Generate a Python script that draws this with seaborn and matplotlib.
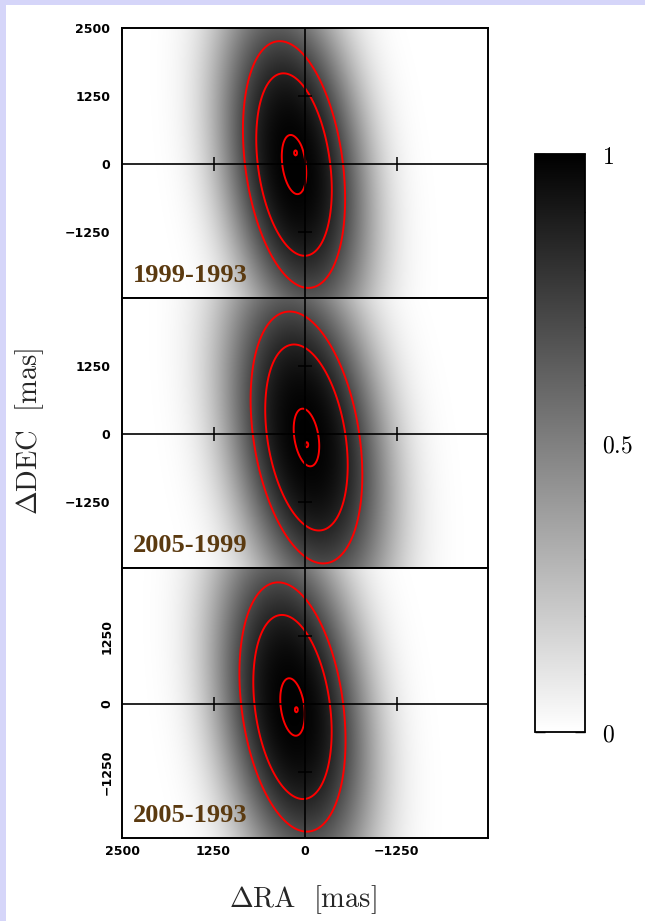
import numpy as np
import matplotlib
matplotlib.use("Agg")
import matplotlib.pyplot as plt
from matplotlib.patches import Rectangle
from matplotlib.ticker import FixedLocator
import seaborn as sns

sns.set_style("white")
plt.rcParams["mathtext.fontset"] = "cm"
plt.rcParams["font.family"] = ["DejaVu Sans"]

# epoch pairs, one panel each
epochs = ["1999-1993", "2005-1999", "2005-1993"]

# offset distribution of each epoch pair [mas]
centre_ra = [150, -20, 171]
centre_dec = [-10, -64, -55]
sigma_ra = [509, 557, 529]
sigma_dec = [1654, 1690, 1672]
corr = [0.28, 0.30, 0.27]
# radial profile exp(-(m / profile_scale) ** profile_power)
profile_scale = 2.05
profile_power = 2.7

# small secondary peak that carries the maximum
peak_ra = [123, -23, 114]
peak_dec = [220, -202, -105]
peak_amp = [0.006, 0.006, 0.006]
peak_sig_ra = [40, 40, 40]
peak_sig_dec = [90, 90, 90]

contour_levels = [0.71, 0.857, 0.988, 0.9992]

ra_ticks = [2500, 1250, 0, -1250]
ra_ticklabels = ["2500", "1250", "0", "\u22121250"]
dec_ticks = [[2500, 1250, 0, -1250], [1250, 0, -1250], [1250, 0, -1250]]
cbar_ticks = [0, 0.5, 1]
cbar_ticklabels = [r"$0$", r"$0.5$", r"$1$"]

# map extent [mas]
RA_MAX, RA_MIN = 2500, -2500
DEC_MAX, DEC_MIN = 2500, -2463
NX, NY = 366, 270
DX = (RA_MAX - RA_MIN) / NX
DY = (DEC_MAX - DEC_MIN) / NY

ra_grid = RA_MAX - (np.arange(NX) + 0.5) * DX
dec_grid = DEC_MAX - (np.arange(NY) + 0.5) * DY
RA, DEC = np.meshgrid(ra_grid, dec_grid)


def density(k):
    u = (RA - centre_ra[k]) / sigma_ra[k]
    v = (DEC - centre_dec[k]) / sigma_dec[k]
    r = corr[k]
    m = np.sqrt((u * u - 2 * r * u * v + v * v) / (1 - r * r))
    main = np.exp(-(m / profile_scale) ** profile_power)
    pu = (RA - peak_ra[k]) / peak_sig_ra[k]
    pv = (DEC - peak_dec[k]) / peak_sig_dec[k]
    z = main + peak_amp[k] * np.exp(-0.5 * (pu * pu + pv * pv))
    return z / z.max()


def xpos(ra):
    return (RA_MAX - ra) / DX


def ypos(dec):
    return (DEC_MAX - dec) / DY


W, H = 645, 921


def fig_rect(left, top, width, height):
    return [left / W, 1 - (top + height) / H, width / W, height / H]


fig = plt.figure(figsize=(W / 100, H / 100), dpi=100)
frame_col = "#d5d5f9"
fig.add_artist(Rectangle((0, 1 - 5 / H), 1, 5 / H, transform=fig.transFigure,
                         facecolor=frame_col, edgecolor="none", zorder=0))
fig.add_artist(Rectangle((0, 0), 6 / W, 1, transform=fig.transFigure,
                         facecolor=frame_col, edgecolor="none", zorder=0))

panel_top = [28, 298, 568]
axes = [fig.add_axes(fig_rect(122, t, 366, 270)) for t in panel_top]
cax = fig.add_axes(fig_rect(535, 154, 50, 578))

xc = np.arange(NX) + 0.5
yc = np.arange(NY) + 0.5
tick_font = dict(fontsize=9, fontweight="bold", family="DejaVu Sans")

for k, ax in enumerate(axes):
    Z = density(k)
    sns.heatmap(Z, ax=ax, cmap="gray_r", vmin=0, vmax=1,
                cbar=(k == 0), cbar_ax=cax if k == 0 else None,
                xticklabels=False, yticklabels=False, rasterized=True)
    ax.contour(xc, yc, Z, levels=contour_levels, colors="#ff0000",
               linewidths=1.4, zorder=3)

    # zero axes with their own tick marks
    ax.axhline(ypos(0), color="black", lw=1.2, zorder=4)
    ax.axvline(xpos(0), color="black", lw=1.2, zorder=4)
    ax.plot([xpos(0)] * 2, [ypos(1250), ypos(-1250)], ls="none", marker="_",
            ms=10, mew=1.1, color="black", zorder=4)
    ax.plot([xpos(1250), xpos(-1250)], [ypos(0)] * 2, ls="none", marker="|",
            ms=10, mew=1.1, color="black", zorder=4)

    for sp in ax.spines.values():
        sp.set_visible(True)
        sp.set_linewidth(1.4)
        sp.set_color("black")

    ax.set_xticks([xpos(v) for v in ra_ticks])
    ax.set_yticks([ypos(v) for v in dec_ticks[k]])
    ylabels = [("\u2212" + str(-v)) if v < 0 else str(v) for v in dec_ticks[k]]
    ax.set_yticklabels(ylabels, **tick_font)
    if k == 2:
        ax.set_xticklabels(ra_ticklabels, **tick_font)
        ax.tick_params(axis="y", labelrotation=90, pad=6)
        for lbl in ax.get_yticklabels():
            lbl.set_verticalalignment("center")
    else:
        ax.set_xticklabels([])
        ax.tick_params(axis="y", pad=8.5)
    ax.tick_params(which="major", direction="in", length=5.5, width=1.1,
                   top=True, bottom=True, left=True, right=True,
                   colors="black")
    ax.tick_params(axis="x", pad=5)
    ax.set_xlabel("")
    ax.set_ylabel("")

    ax.text(0.03, 0.058, epochs[k], transform=ax.transAxes, color="#5b3a10",
            family="Liberation Serif", fontweight="bold", fontsize=19,
            va="baseline", ha="left", zorder=5)

# colour bar
cb = axes[0].collections[0].colorbar
cb.outline.set_linewidth(1.3)
cb.outline.set_edgecolor("black")
cb.set_ticks(cbar_ticks)
cb.set_ticklabels(cbar_ticklabels)
cax.yaxis.set_minor_locator(FixedLocator([0.1, 0.2, 0.3, 0.4, 0.6, 0.7, 0.8, 0.9]))
cax.tick_params(which="both", direction="in", left=True, right=True,
                labelleft=False, labelright=True, colors="black", width=1.0)
cax.tick_params(which="major", length=7, labelsize=17, pad=12)
cax.tick_params(which="minor", length=4)

fig.text(0.469, 0.0235, r"$\Delta\mathrm{RA}\;\;\,[\mathrm{mas}]$", fontsize=20.5,
         ha="center", va="center")
fig.text(0.046, 0.5315, r"$\Delta\mathrm{DEC}\;\;\,[\mathrm{mas}]$", fontsize=20.5,
         ha="center", va="center", rotation=90)

fig.savefig("out.png", dpi=100, facecolor="white")
